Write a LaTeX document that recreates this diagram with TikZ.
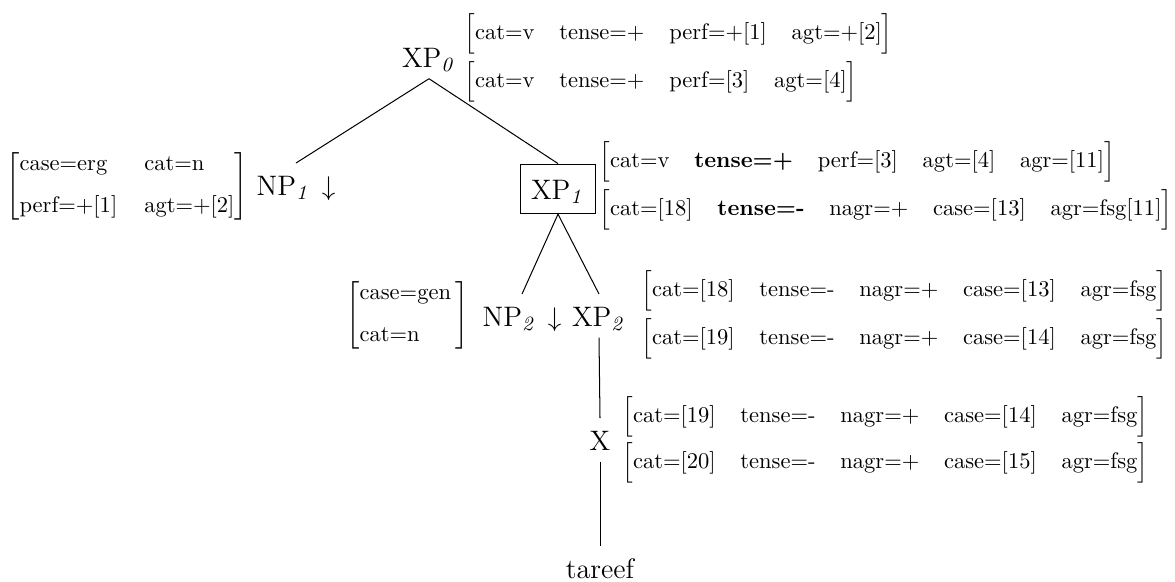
\documentclass[tikz,border=0pt]{standalone}
\usepackage{amsmath}
\newcommand{\avsep}{\hspace{11pt}}
\newcommand{\avmrow}[1]{$\left[\rule[-4pt]{0pt}{14pt}\mbox{#1}\right]$}
\newcommand{\avmtwo}[2]{$\left[\begin{tabular}{@{}#1@{}}#2\end{tabular}\right]$}
\begin{document}
\begin{tikzpicture}[x=0.444pt,y=-0.444pt,
  tn/.style={font=\fontsize{12.5}{15}\selectfont, inner sep=0pt, text height=14pt, text depth=5pt, anchor=base},
  boxed/.style={draw, line width=0.45pt, inner xsep=4.5pt, inner ysep=1.5pt},
  avm/.style={anchor=west, inner sep=0pt, font=\fontsize{10}{12}\selectfont},
  edge/.style={line width=0.45pt}]
\useasboundingbox (0,0) rectangle (1175,581);

% tree nodes
\node[tn] (xp0) at (429,67) {XP$_{\mathit{0}}$};
\node[tn] (np1) at (296,195) {NP$_{\mathit{1}}$\hspace{5pt}$\downarrow$};
\node[tn,boxed] (xp1) at (558,199) {XP$_{\mathit{1}}$};
\node[tn] (np2) at (522,326) {NP$_{\mathit{2}}$\hspace{5pt}$\downarrow$};
\node[tn] (xp2) at (599,326) {XP$_{\mathit{2}}$};
\node[tn] (x) at (600,450) {X};
\node[tn] (tareef) at (600,578) {tareef};

% edges
\draw[edge] (xp0.south) -- (np1.north);
\draw[edge] (xp0.south) -- (xp1.north);
\draw[edge] (xp1.south) -- (np2.north);
\draw[edge] (xp1.south) -- (xp2.north);
\draw[edge] (xp2.south) -- (x.north);
\draw[edge] (x.south) -- (tareef.north);

% feature structures
\node[avm] (f0a) at (464,34) {\avmrow{cat=v\avsep tense=+\avsep perf=+[1]\avsep agt=+[2]}};
\node[avm] (f0b) at (464,82) {\avmrow{cat=v\avsep tense=+\avsep perf=[3]\avsep agt=[4]}};

\node[avm] (fnp1) at (6,186) {\avmtwo{l@{\hspace{12pt}}l}{case=erg & cat=n\\[7pt] perf=+[1] & agt=+[2]}};

\node[avm] (f1a) at (599,162) {\avmrow{cat=v\avsep \textbf{tense=+}\avsep perf=[3]\avsep agt=[4]\avsep agr=[11]}};
\node[avm] (f1b) at (599,210) {\avmrow{cat=[18]\avsep \textbf{tense=-}\avsep nagr=+\avsep case=[13]\avsep agr=fsg[11]}};

\node[avm] (fnp2) at (346,315) {\avmtwo{l@{\hspace{2pt}}}{case=gen\\[7pt] cat=n}};

\node[avm] (f2a) at (641,291) {\avmrow{cat=[18]\avsep tense=-\avsep nagr=+\avsep case=[13]\avsep agr=fsg}};
\node[avm] (f2b) at (641,339) {\avmrow{cat=[19]\avsep tense=-\avsep nagr=+\avsep case=[14]\avsep agr=fsg}};

\node[avm] (fxa) at (622,417) {\avmrow{cat=[19]\avsep tense=-\avsep nagr=+\avsep case=[14]\avsep agr=fsg}};
\node[avm] (fxb) at (622,463) {\avmrow{cat=[20]\avsep tense=-\avsep nagr=+\avsep case=[15]\avsep agr=fsg}};
\end{tikzpicture}
\end{document}
